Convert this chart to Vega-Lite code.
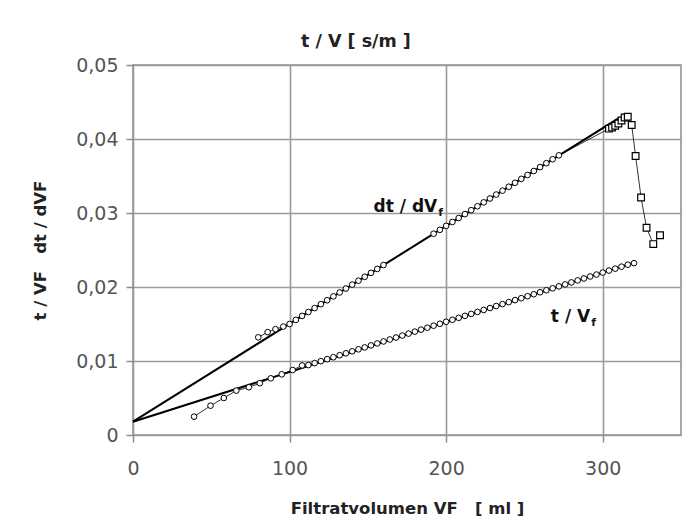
{
  "$schema": "https://vega.github.io/schema/vega-lite/v6.json",
  "width": 548,
  "height": 370,
  "autosize": "none",
  "padding": {"left": 133, "top": 65, "right": 13, "bottom": 94},
  "background": "white",
  "config": {
    "font": "DejaVu Sans",
    "view": {"stroke": "#8c8c8c", "strokeWidth": 1.5},
    "axis": {
      "labelFont": "DejaVu Sans",
      "titleFont": "DejaVu Sans",
      "labelFontSize": 19,
      "labelColor": "#555555",
      "titleFontSize": 16.5,
      "titleFontWeight": "bold",
      "titleColor": "#222222",
      "gridColor": "#9a9a9a",
      "gridWidth": 1.6,
      "gridOpacity": 1,
      "tickColor": "#8c8c8c",
      "tickWidth": 1.5,
      "tickSize": 7,
      "domain": false
    }
  },
  "title": {
    "text": "t / V [ s/m ]",
    "anchor": "start",
    "frame": "group",
    "dx": 168,
    "offset": 6,
    "fontSize": 17.5,
    "fontWeight": "bold",
    "font": "DejaVu Sans",
    "color": "#222222"
  },
  "datasets": {
    "fit": [
      {"s": "dt", "x": 0, "y": 0.0018},
      {"s": "dt", "x": 310, "y": 0.0428},
      {"s": "tv", "x": 0, "y": 0.0018},
      {"s": "tv", "x": 320, "y": 0.0233}
    ],
    "tv": [
      {"x": 39, "y": 0.00248},
      {"x": 49.5, "y": 0.00396},
      {"x": 58, "y": 0.0050},
      {"x": 66, "y": 0.0060},
      {"x": 74, "y": 0.00645},
      {"x": 81, "y": 0.0070},
      {"x": 88, "y": 0.00766},
      {"x": 95, "y": 0.0082},
      {"x": 102, "y": 0.00878},
      {"x": 108, "y": 0.0094},
      {"x": 112, "y": 0.00945},
      {"x": 116, "y": 0.00971},
      {"x": 120, "y": 0.00998},
      {"x": 124, "y": 0.01025},
      {"x": 128, "y": 0.01051},
      {"x": 132, "y": 0.01078},
      {"x": 136, "y": 0.01104},
      {"x": 140, "y": 0.01131},
      {"x": 144, "y": 0.01158},
      {"x": 148, "y": 0.01184},
      {"x": 152, "y": 0.01211},
      {"x": 156, "y": 0.01237},
      {"x": 160, "y": 0.01264},
      {"x": 164, "y": 0.01291},
      {"x": 168, "y": 0.01317},
      {"x": 172, "y": 0.01344},
      {"x": 176, "y": 0.0137},
      {"x": 180, "y": 0.01397},
      {"x": 184, "y": 0.01424},
      {"x": 188, "y": 0.0145},
      {"x": 192, "y": 0.01477},
      {"x": 196, "y": 0.01503},
      {"x": 200, "y": 0.0153},
      {"x": 204, "y": 0.01557},
      {"x": 208, "y": 0.01583},
      {"x": 212, "y": 0.0161},
      {"x": 216, "y": 0.01636},
      {"x": 220, "y": 0.01663},
      {"x": 224, "y": 0.0169},
      {"x": 228, "y": 0.01716},
      {"x": 232, "y": 0.01743},
      {"x": 236, "y": 0.01769},
      {"x": 240, "y": 0.01796},
      {"x": 244, "y": 0.01823},
      {"x": 248, "y": 0.01849},
      {"x": 252, "y": 0.01876},
      {"x": 256, "y": 0.01902},
      {"x": 260, "y": 0.01929},
      {"x": 264, "y": 0.01956},
      {"x": 268, "y": 0.01982},
      {"x": 272, "y": 0.02009},
      {"x": 276, "y": 0.02035},
      {"x": 280, "y": 0.02062},
      {"x": 284, "y": 0.02089},
      {"x": 288, "y": 0.02115},
      {"x": 292, "y": 0.02142},
      {"x": 296, "y": 0.02168},
      {"x": 300, "y": 0.02195},
      {"x": 304, "y": 0.02222},
      {"x": 308, "y": 0.02248},
      {"x": 312, "y": 0.02275},
      {"x": 316, "y": 0.02301},
      {"x": 320, "y": 0.02322}
    ],
    "dt": [
      {"x": 80, "y": 0.0132},
      {"x": 86, "y": 0.0139},
      {"x": 91, "y": 0.0143},
      {"x": 96, "y": 0.01465},
      {"x": 100, "y": 0.0150},
      {"x": 104, "y": 0.01556},
      {"x": 108, "y": 0.01609},
      {"x": 112, "y": 0.01662},
      {"x": 116, "y": 0.01715},
      {"x": 120, "y": 0.01768},
      {"x": 124, "y": 0.01821},
      {"x": 128, "y": 0.01873},
      {"x": 132, "y": 0.01926},
      {"x": 136, "y": 0.01979},
      {"x": 140, "y": 0.02032},
      {"x": 144, "y": 0.02085},
      {"x": 148, "y": 0.02138},
      {"x": 152, "y": 0.02191},
      {"x": 156, "y": 0.02244},
      {"x": 160, "y": 0.02297},
      {"x": 192, "y": 0.0272},
      {"x": 196, "y": 0.02773},
      {"x": 200, "y": 0.02826},
      {"x": 204, "y": 0.02879},
      {"x": 208, "y": 0.02932},
      {"x": 212, "y": 0.02985},
      {"x": 216, "y": 0.03038},
      {"x": 220, "y": 0.03091},
      {"x": 224, "y": 0.03144},
      {"x": 228, "y": 0.03196},
      {"x": 232, "y": 0.03249},
      {"x": 236, "y": 0.03302},
      {"x": 240, "y": 0.03355},
      {"x": 244, "y": 0.03408},
      {"x": 248, "y": 0.03461},
      {"x": 252, "y": 0.03514},
      {"x": 256, "y": 0.03567},
      {"x": 260, "y": 0.0362},
      {"x": 264, "y": 0.03673},
      {"x": 268, "y": 0.03726},
      {"x": 272, "y": 0.03779},
      {"x": 304, "y": 0.0414},
      {"x": 306, "y": 0.04155},
      {"x": 308, "y": 0.0418},
      {"x": 310, "y": 0.0421},
      {"x": 312, "y": 0.0425},
      {"x": 314, "y": 0.0429},
      {"x": 316, "y": 0.0430},
      {"x": 318.5, "y": 0.0419},
      {"x": 321, "y": 0.0377},
      {"x": 324.5, "y": 0.0321},
      {"x": 328, "y": 0.0280},
      {"x": 332.3, "y": 0.0258},
      {"x": 336.6, "y": 0.0270}
    ],
    "labels": [
      {"x": 194.3, "y": 0.0302, "main": "dt / dV", "sub": "f"},
      {"x": 292, "y": 0.0153, "main": "t / V", "sub": "f"}
    ]
  },
  "encoding": {
    "x": {
      "field": "x",
      "type": "quantitative",
      "scale": {"domain": [0, 350], "nice": false, "zero": false},
      "axis": {
        "values": [0, 100, 200, 300],
        "title": "Filtratvolumen VF\u00a0\u00a0\u00a0[ ml ]",
        "labelPadding": 17,
        "titlePadding": 22,
        "labelFlush": false
      }
    },
    "y": {
      "field": "y",
      "type": "quantitative",
      "scale": {"domain": [0, 0.05], "nice": false},
      "axis": {
        "values": [0, 0.01, 0.02, 0.03, 0.04, 0.05],
        "labelExpr": "datum.value == 0 ? '0' : replace(format(datum.value, '.2f'), '.', ',')",
        "title": "t / VF\u00a0\u00a0\u00a0dt / dVF",
        "labelPadding": 8,
        "titlePadding": 27
      }
    }
  },
  "layer": [
    {
      "mark": {"type": "rule", "color": "#bdbdbd", "strokeWidth": 3.5, "xOffset": 2.5},
      "encoding": {"x": {"datum": 350}, "y": {"datum": 0}, "y2": {"datum": 0.05}}
    },
    {
      "data": {"name": "tv"},
      "mark": {"type": "line", "color": "black", "strokeWidth": 0.8}
    },
    {
      "data": {"name": "dt"},
      "mark": {"type": "line", "color": "black", "strokeWidth": 0.8}
    },
    {
      "data": {"name": "fit"},
      "mark": {"type": "line", "color": "black", "strokeWidth": 2},
      "encoding": {"detail": {"field": "s", "type": "nominal"}}
    },
    {
      "data": {"name": "tv"},
      "mark": {"type": "point", "shape": "circle", "filled": true, "fill": "white", "stroke": "black", "strokeWidth": 1, "size": 32, "opacity": 1}
    },
    {
      "data": {"name": "dt"},
      "transform": [{"filter": "datum.x < 300"}],
      "mark": {"type": "point", "shape": "circle", "filled": true, "fill": "white", "stroke": "black", "strokeWidth": 1, "size": 32, "opacity": 1}
    },
    {
      "data": {"name": "dt"},
      "transform": [{"filter": "datum.x >= 300"}],
      "mark": {"type": "point", "shape": "square", "filled": true, "fill": "white", "stroke": "black", "strokeWidth": 1.2, "size": 45, "opacity": 1}
    },
    {
      "data": {"name": "labels"},
      "mark": {"type": "text", "align": "right", "baseline": "alphabetic", "fontSize": 17, "fontWeight": "bold", "font": "DejaVu Sans", "color": "#111111"},
      "encoding": {"text": {"field": "main"}}
    },
    {
      "data": {"name": "labels"},
      "mark": {"type": "text", "align": "left", "baseline": "alphabetic", "dx": 1, "dy": 4, "fontSize": 11, "fontWeight": "bold", "font": "DejaVu Sans", "color": "#111111"},
      "encoding": {"text": {"field": "sub"}}
    }
  ]
}
